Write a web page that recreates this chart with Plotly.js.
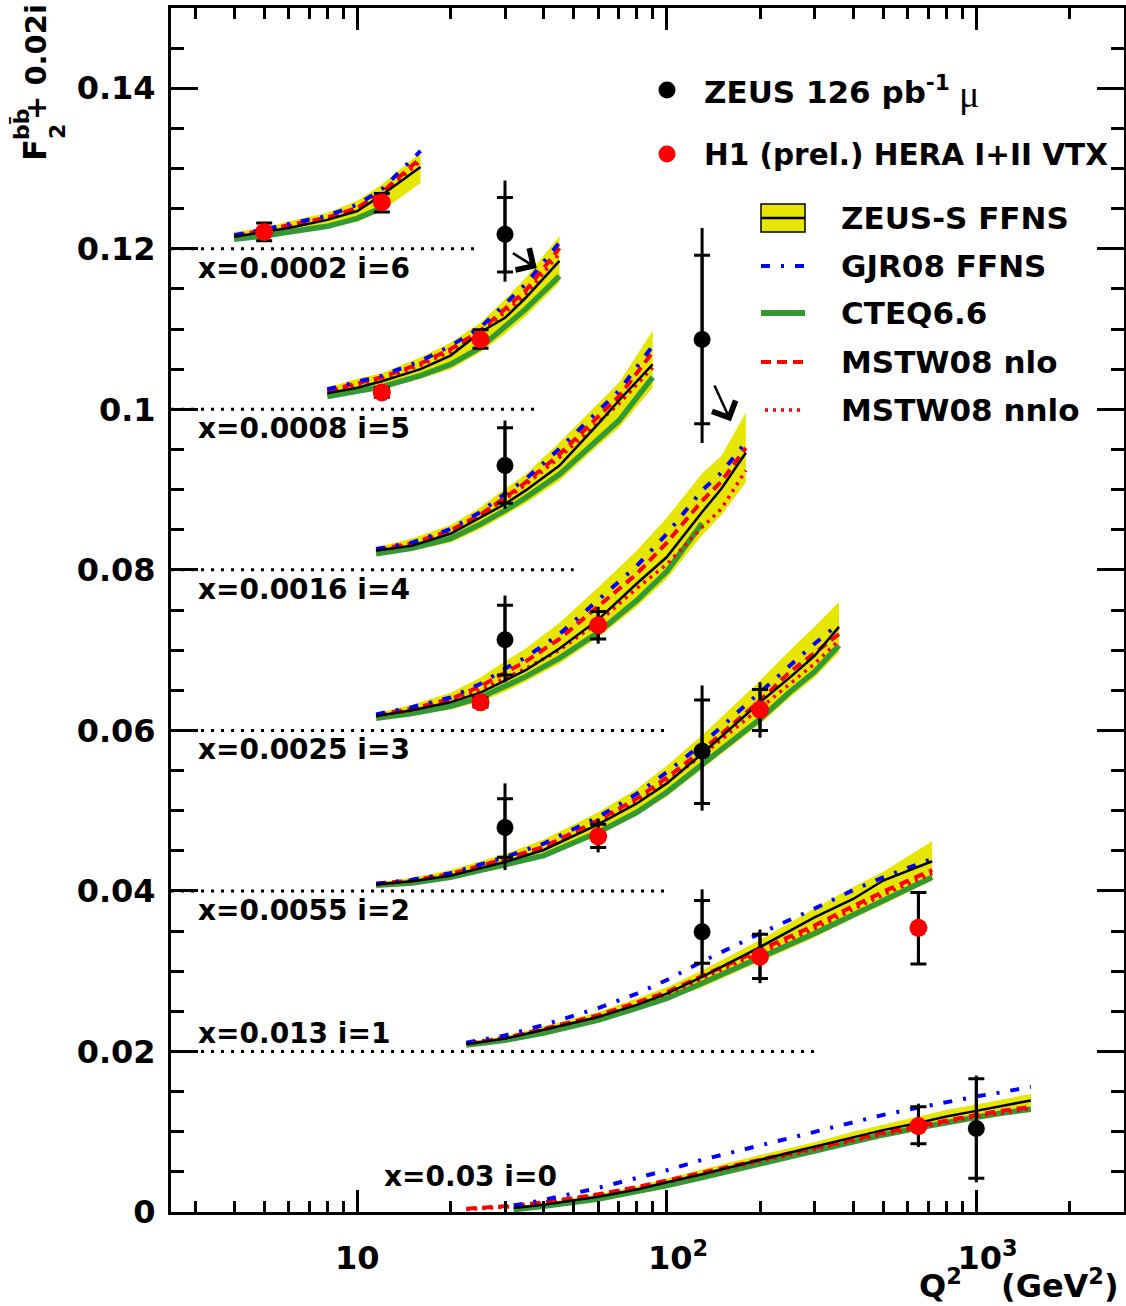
<!DOCTYPE html>
<html><head><meta charset="utf-8">
<script src="https://cdn.plot.ly/plotly-3.0.1.min.js"></script>
<style>html,body{margin:0;padding:0;background:#fff}#chart{width:1126px;height:1306px}</style>
</head><body><div id="chart"></div><script>
// ---------------- DATA ----------------
// bin i=6, x=0.0002
const q2_i6   = [4, 5, 6, 8, 10, 12, 16];
const lo_i6   = [0.1211, 0.1215, 0.1219, 0.1226, 0.1234, 0.1247, 0.1282];
const hi_i6   = [0.1221, 0.1226, 0.1234, 0.1245, 0.1260, 0.1280, 0.1320];
const zs_i6   = [0.1215, 0.1221, 0.1226, 0.1236, 0.1247, 0.1267, 0.1302];
const gjr_i6  = [0.1217, 0.1224, 0.1231, 0.1241, 0.1255, 0.1274, 0.1322];
const cteq_i6 = [0.1212, 0.1216, 0.1221, 0.1228, 0.1238, 0.1251];
const nlo_i6  = [0.1216, 0.1223, 0.1229, 0.1239, 0.1251, 0.1270, 0.1313];
const nnlo_i6 = [0.1216, 0.1222, 0.1228, 0.1237, 0.1250, 0.1268, 0.1309];
// bin i=5, x=0.0008
const q2_i5   = [8, 10, 12, 16, 20, 25, 30, 35, 45];
const lo_i5   = [0.1015, 0.1020, 0.1025, 0.1038, 0.1050, 0.1071, 0.1094, 0.1116, 0.1158];
const hi_i5   = [0.1027, 0.1038, 0.1045, 0.1065, 0.1083, 0.1108, 0.1137, 0.1164, 0.1216];
const zs_i5   = [0.1020, 0.1027, 0.1035, 0.1050, 0.1067, 0.1096, 0.1114, 0.1139, 0.1185];
const gjr_i5  = [0.1025, 0.1035, 0.1042, 0.1060, 0.1079, 0.1102, 0.1131, 0.1156, 0.1208];
const cteq_i5 = [0.1016, 0.1022, 0.1028, 0.1042, 0.1056, 0.1077, 0.1102, 0.1125, 0.1166];
const nlo_i5  = [0.1023, 0.1033, 0.1040, 0.1057, 0.1075, 0.1098, 0.1125, 0.1148, 0.1201];
const nnlo_i5 = [0.1022, 0.1031, 0.1038, 0.1055, 0.1072, 0.1095, 0.1121, 0.1143, 0.1194];
// bin i=4, x=0.0016
const q2_i4   = [11.5, 15, 20, 25, 30, 35, 45, 60, 70, 90];
const lo_i4   = [0.0818, 0.0824, 0.0834, 0.0851, 0.0868, 0.0883, 0.0911, 0.0955, 0.0977, 0.1027];
const hi_i4   = [0.0828, 0.0839, 0.0856, 0.0878, 0.0901, 0.0919, 0.0959, 0.1007, 0.1033, 0.1098];
const zs_i4   = [0.0824, 0.0830, 0.0845, 0.0865, 0.0882, 0.0899, 0.0930, 0.0982, 0.1011, 0.1056];
const gjr_i4  = [0.0826, 0.0834, 0.0851, 0.0872, 0.0895, 0.0913, 0.0951, 0.0998, 0.1023, 0.1079];
const cteq_i4 = [0.0820, 0.0827, 0.0839, 0.0857, 0.0874, 0.0890, 0.0919, 0.0963, 0.0986, 0.1040];
const nlo_i4  = [0.0825, 0.0833, 0.0849, 0.0869, 0.0890, 0.0909, 0.0944, 0.0990, 0.1016, 0.1071];
const nnlo_i4 = [0.0824, 0.0832, 0.0848, 0.0868, 0.0888, 0.0906, 0.0940, 0.0984, 0.1007, 0.1052];
// bin i=3, x=0.0025
const q2_i3   = [11.5, 15, 20, 25, 30, 35, 45, 60, 80, 100, 130, 150, 180];
const lo_i3   = [0.0614, 0.0619, 0.0626, 0.0636, 0.0648, 0.0661, 0.0683, 0.0716, 0.0754, 0.0789, 0.0843, 0.0868, 0.0909];
const hi_i3   = [0.0621, 0.0632, 0.0647, 0.0666, 0.0686, 0.0702, 0.0734, 0.0778, 0.0824, 0.0865, 0.0920, 0.0942, 0.0996];
const zs_i3   = [0.0618, 0.0625, 0.0635, 0.0647, 0.0662, 0.0675, 0.0702, 0.0738, 0.0783, 0.0816, 0.0872, 0.0901, 0.0946];
const gjr_i3  = [0.0620, 0.0629, 0.0641, 0.0658, 0.0677, 0.0691, 0.0720, 0.0762, 0.0805, 0.0845, 0.0899, 0.0921, 0.0959];
const cteq_i3 = [0.0615, 0.0621, 0.0630, 0.0641, 0.0655, 0.0667, 0.0690, 0.0722, 0.0762, 0.0798, 0.0858];
const nlo_i3  = [0.0619, 0.0627, 0.0639, 0.0655, 0.0672, 0.0686, 0.0714, 0.0754, 0.0795, 0.0834, 0.0886, 0.0910, 0.0952];
const nnlo_i3 = [0.0618, 0.0625, 0.0636, 0.0650, 0.0665, 0.0677, 0.0700, 0.0735, 0.0777, 0.0807, 0.0853, 0.0876, 0.0924];
// bin i=2, x=0.0055
const q2_i2   = [11.5, 15, 20, 30, 40, 60, 80, 100, 130, 200, 250, 300, 360];
const lo_i2   = [0.0406, 0.0409, 0.0415, 0.0429, 0.0442, 0.0469, 0.0494, 0.0518, 0.0552, 0.0608, 0.0641, 0.0666, 0.0697];
const hi_i2   = [0.0410, 0.0416, 0.0426, 0.0446, 0.0464, 0.0498, 0.0527, 0.0556, 0.0594, 0.0662, 0.0700, 0.0729, 0.0760];
const zs_i2   = [0.0408, 0.0412, 0.0419, 0.0436, 0.0451, 0.0483, 0.0509, 0.0534, 0.0571, 0.0635, 0.0666, 0.0693, 0.0729];
const gjr_i2  = [0.0409, 0.0414, 0.0422, 0.0442, 0.0459, 0.0492, 0.0521, 0.0548, 0.0583, 0.0648, 0.0681, 0.0708, 0.0733];
const cteq_i2 = [0.0407, 0.0410, 0.0417, 0.0432, 0.0444, 0.0473, 0.0498, 0.0523, 0.0558, 0.0614, 0.0648, 0.0673, 0.0706];
const nlo_i2  = [0.0409, 0.0413, 0.0421, 0.0440, 0.0455, 0.0488, 0.0515, 0.0541, 0.0575, 0.0637, 0.0673, 0.0697, 0.0720];
const nnlo_i2 = [0.0408, 0.0413, 0.0420, 0.0438, 0.0453, 0.0485, 0.0511, 0.0536, 0.0569, 0.0627, 0.0658, 0.0683, 0.0712];
// bin i=1, x=0.013
const q2_i1   = [22.5, 30, 40, 60, 80, 100, 130, 200, 300, 400, 500, 720];
const lo_i1   = [0.0207, 0.0213, 0.0222, 0.0237, 0.0251, 0.0264, 0.0280, 0.0312, 0.0342, 0.0366, 0.0383, 0.0413];
const hi_i1   = [0.0212, 0.0219, 0.0231, 0.0249, 0.0266, 0.0280, 0.0301, 0.0339, 0.0378, 0.0405, 0.0424, 0.0462];
const zs_i1   = [0.0209, 0.0216, 0.0227, 0.0243, 0.0258, 0.0272, 0.0293, 0.0330, 0.0367, 0.0390, 0.0413, 0.0437];
const gjr_i1  = [0.0211, 0.0220, 0.0233, 0.0254, 0.0272, 0.0289, 0.0312, 0.0347, 0.0378, 0.0401, 0.0417, 0.0440];
const cteq_i1 = [0.0208, 0.0214, 0.0223, 0.0239, 0.0254, 0.0266, 0.0285, 0.0316, 0.0347, 0.0370, 0.0388, 0.0417];
const nlo_i1  = [0.0210, 0.0217, 0.0228, 0.0245, 0.0261, 0.0274, 0.0294, 0.0326, 0.0357, 0.0381, 0.0399, 0.0426];
const nnlo_i1 = [0.0210, 0.0217, 0.0227, 0.0243, 0.0259, 0.0271, 0.0291, 0.0323, 0.0353, 0.0377, 0.0395, 0.0422];
// bin i=0, x=0.03
const q2_i0   = [32, 40, 60, 80, 100, 130, 200, 300, 400, 500, 650, 800, 1000, 1200, 1500];
const q2r_i0  = [22.5, 32, 40, 60, 80, 100, 130, 200, 300, 400, 500, 650, 800, 1000, 1200, 1500];
const lo_i0   = [0.0003, 0.0006, 0.0016, 0.0025, 0.0032, 0.0043, 0.0059, 0.0074, 0.0087, 0.0096, 0.0104, 0.0111, 0.0118, 0.0123, 0.0129];
const hi_i0   = [0.0005, 0.0011, 0.0022, 0.0032, 0.0042, 0.0053, 0.0071, 0.0087, 0.0100, 0.0109, 0.0119, 0.0127, 0.0134, 0.0140, 0.0147];
const zs_i0   = [0.0005, 0.0009, 0.0019, 0.0028, 0.0037, 0.0047, 0.0065, 0.0081, 0.0093, 0.0102, 0.0111, 0.0119, 0.0126, 0.0132, 0.0139];
const gjr_i0  = [0.0008, 0.0015, 0.0030, 0.0042, 0.0052, 0.0065, 0.0083, 0.0100, 0.0112, 0.0121, 0.0130, 0.0137, 0.0144, 0.0149, 0.0156];
const cteq_i0 = [0.0003, 0.0007, 0.0016, 0.0025, 0.0033, 0.0043, 0.0060, 0.0075, 0.0088, 0.0096, 0.0105, 0.0112, 0.0118, 0.0123, 0.0128];
const nlo_i0  = [0.0004, 0.0008, 0.0012, 0.0022, 0.0031, 0.0039, 0.0049, 0.0065, 0.0080, 0.0091, 0.0099, 0.0107, 0.0114, 0.0121, 0.0126, 0.0131];
const nnlo_i0 = [0.0003, 0.0007, 0.0011, 0.0021, 0.0030, 0.0037, 0.0047, 0.0063, 0.0078, 0.0089, 0.0097, 0.0105, 0.0112, 0.0119, 0.0123, 0.0129];

// ZEUS 126 pb-1 muon data (F2 + 0.02 i)
const zeusQ2      = [30, 130, 30, 30, 130, 30, 130, 1000];
const zeusVal     = [0.1218, 0.1087, 0.0930, 0.0713, 0.0574, 0.0479, 0.0349, 0.0104];
const zeusStatUp  = [0.0046, 0.0105, 0.0047, 0.0043, 0.0064, 0.0036, 0.0039, 0.0062];
const zeusStatDn  = [0.0047, 0.0105, 0.0047, 0.0044, 0.0065, 0.0037, 0.0039, 0.0062];
const zeusTotUp   = [0.0067, 0.0139, 0.0056, 0.0055, 0.0082, 0.0055, 0.0053, 0.0066];
const zeusTotDn   = [0.0059, 0.0129, 0.0054, 0.0053, 0.0074, 0.0053, 0.0054, 0.0067];
// H1 (prel.) HERA I+II VTX data
const h1Q2      = [5, 12, 12, 25, 25, 60, 60, 200, 200, 650, 650];
const h1Val     = [0.1221, 0.1258, 0.1021, 0.1087, 0.0635, 0.0731, 0.0468, 0.0626, 0.0318, 0.0354, 0.0107];
const h1StatUp  = [0.0011, 0.0011, 0.0006, 0.0012, 0.0006, 0.0017, 0.0015, 0.0025, 0.0028, 0.0044, 0.0024];
const h1StatDn  = [0.0011, 0.0012, 0.0006, 0.0011, 0.0006, 0.0017, 0.0014, 0.0026, 0.0027, 0.0045, 0.0022];
const h1TotUp   = [0.0012, 0.0013, 0.0007, 0.0013, 0.0007, 0.0023, 0.0022, 0.0034, 0.0034, 0.0046, 0.0028];
const h1TotDn   = [0.0012, 0.0013, 0.0007, 0.0012, 0.0007, 0.0023, 0.0020, 0.0035, 0.0033, 0.0046, 0.0026];

// dotted reference lines at 0.02 i and bin labels
const refLevel  = [0.12, 0.10, 0.08, 0.06, 0.04, 0.02];
const refEndQ2  = [25, 38, 50, 100, 100, 310];
const binLabels = ["x=0.0002 i=6", "x=0.0008 i=5", "x=0.0016 i=4", "x=0.0025 i=3", "x=0.0055 i=2", "x=0.013 i=1", "x=0.03 i=0"];
const labelQ2   = [3, 3, 3, 3, 3, 3, 12];
const labelY    = [0.1175, 0.0976, 0.0775, 0.0576, 0.0376, 0.0223, 0.0044];
// arrows (from ZEUS points toward shifted theory)
const arrowFromQ2 = [31.1, 139.4];
const arrowFromY  = [0.1197, 0.1038];
const arrowToQ2   = [38.0, 161.0];
const arrowToY    = [0.1176, 0.0985];

const xTickVals = [10, 100, 1000];
const xTickText = ["10", "\u00a0\u00a010<sup>2</sup>", "\u00a0\u00a010<sup>3</sup>"];
const xMinorVals = [3,4,5,6,7,8,9,20,30,40,50,60,70,80,90,200,300,400,500,600,700,800,900,2000,3000];
const yTickVals = [0, 0.02, 0.04, 0.06, 0.08, 0.10, 0.12, 0.14];
const yTickText = ["0", "0.02", "0.04", "0.06", "0.08", "0.1", "0.12", "0.14"];

// ---------------- BUILD ----------------
const FONT = "DejaVu Sans";
const YEL = "rgb(230,230,0)", GRN = "rgb(51,153,51)";
const bins = [
  {q2:q2_i6, lo:lo_i6, hi:hi_i6, zs:zs_i6, gjr:gjr_i6, cteq:cteq_i6, nlo:nlo_i6, nnlo:nnlo_i6},
  {q2:q2_i5, lo:lo_i5, hi:hi_i5, zs:zs_i5, gjr:gjr_i5, cteq:cteq_i5, nlo:nlo_i5, nnlo:nnlo_i5},
  {q2:q2_i4, lo:lo_i4, hi:hi_i4, zs:zs_i4, gjr:gjr_i4, cteq:cteq_i4, nlo:nlo_i4, nnlo:nnlo_i4},
  {q2:q2_i3, lo:lo_i3, hi:hi_i3, zs:zs_i3, gjr:gjr_i3, cteq:cteq_i3, nlo:nlo_i3, nnlo:nnlo_i3},
  {q2:q2_i2, lo:lo_i2, hi:hi_i2, zs:zs_i2, gjr:gjr_i2, cteq:cteq_i2, nlo:nlo_i2, nnlo:nnlo_i2},
  {q2:q2_i1, lo:lo_i1, hi:hi_i1, zs:zs_i1, gjr:gjr_i1, cteq:cteq_i1, nlo:nlo_i1, nnlo:nnlo_i1},
  {q2:q2_i0, q2r:q2r_i0, lo:lo_i0, hi:hi_i0, zs:zs_i0, gjr:gjr_i0, cteq:cteq_i0, nlo:nlo_i0, nnlo:nnlo_i0}
];
const styles = {
  cteq: {color:GRN, width:5.5},
  nnlo: {color:"red", width:3.5, dash:"3px,5px"},
  nlo:  {color:"red", width:4, dash:"10px,6px"},
  gjr:  {color:"blue", width:4, dash:"9px,11px,3px,11px"},
  zs:   {color:"black", width:2.5}
};
const traces = [];
bins.forEach(b => {
  traces.push({x: b.q2.concat(b.q2.slice().reverse()), y: b.hi.concat(b.lo.slice().reverse()),
    type:"scatter", mode:"lines", fill:"toself", fillcolor:YEL, line:{width:0, color:YEL}, hoverinfo:"skip"});
});
["cteq","nnlo","nlo","gjr","zs"].forEach(m => {
  bins.forEach(b => {
    const xs = ((m==="nlo"||m==="nnlo") && b.q2r) ? b.q2r : b.q2;
    traces.push({x: xs.slice(0, b[m].length), y: b[m], type:"scatter", mode:"lines",
      line: Object.assign({shape:"linear"}, styles[m]), hoverinfo:"skip"});
  });
});
refLevel.forEach((lv, k) => {
  traces.push({x:[2.5, refEndQ2[k]], y:[lv, lv], type:"scatter", mode:"lines",
    line:{color:"black", width:3, dash:"3px,7px"}, hoverinfo:"skip"});
});
// ZEUS total (no caps) + stat (caps)
traces.push({x:zeusQ2, y:zeusVal, type:"scatter", mode:"markers", marker:{size:0.1, color:"black"},
  error_y:{type:"data", symmetric:false, array:zeusTotUp, arrayminus:zeusTotDn, color:"black", thickness:3, width:0}});
traces.push({x:zeusQ2, y:zeusVal, type:"scatter", mode:"markers", marker:{size:17, color:"black"},
  error_y:{type:"data", symmetric:false, array:zeusStatUp, arrayminus:zeusStatDn, color:"black", thickness:3, width:8}});
// H1
traces.push({x:h1Q2, y:h1Val, type:"scatter", mode:"markers", marker:{size:0.1, color:"black"},
  error_y:{type:"data", symmetric:false, array:h1TotUp, arrayminus:h1TotDn, color:"black", thickness:3, width:0}});
traces.push({x:h1Q2, y:h1Val, type:"scatter", mode:"markers", marker:{size:18, color:"red"},
  error_y:{type:"data", symmetric:false, array:h1StatUp, arrayminus:h1StatDn, color:"black", thickness:3, width:8}});

// ---------------- DECORATION ----------------
const L = 171, R = 1124, T = 8, B = 1212;
const PX = p => (p - L) / (R - L);
const PY = p => (B - p) / (B - T);
const bold = (size) => ({family:FONT, size:size, weight:"bold", color:"black"});

const annotations = [];
binLabels.forEach((t, k) => {
  annotations.push({x:Math.log10(labelQ2[k]), y:labelY[k], xref:"x", yref:"y", text:t, showarrow:false,
    xanchor:"left", yanchor:"middle", font:bold(28)});
});
arrowFromQ2.forEach((q, k) => {
  annotations.push({x:Math.log10(arrowToQ2[k]), y:arrowToY[k], ax:Math.log10(q), ay:arrowFromY[k],
    xref:"x", yref:"y", axref:"x", ayref:"y", text:" ", showarrow:true, arrowhead:4, arrowsize:2,
    arrowwidth:2.5, arrowcolor:"black"});
});
// y title pieces (rotated)
annotations.push({xref:"paper", yref:"paper", x:PX(35), y:PY(150), text:"F", textangle:-90, showarrow:false, font:bold(32), xanchor:"center", yanchor:"middle"});
annotations.push({xref:"paper", yref:"paper", x:PX(57), y:PY(132), text:"2", textangle:-90, showarrow:false, font:bold(22), xanchor:"center", yanchor:"middle"});
annotations.push({xref:"paper", yref:"paper", x:PX(22), y:PY(124), text:"bb\u0304", textangle:-90, showarrow:false, font:bold(22), xanchor:"center", yanchor:"middle"});
annotations.push({xref:"paper", yref:"paper", x:PX(36), y:PY(62), text:"+ 0.02i", textangle:-90, showarrow:false, font:bold(29), xanchor:"center", yanchor:"middle"});
// x title
annotations.push({xref:"paper", yref:"paper", x:PX(917), y:PY(1284), text:"Q<sup>2</sup>", showarrow:false, font:bold(32), xanchor:"left", yanchor:"middle"});
annotations.push({xref:"paper", yref:"paper", x:PX(1121), y:PY(1284), text:"(GeV<sup>2</sup>)", showarrow:false, font:bold(32), xanchor:"right", yanchor:"middle"});

// legend
const legTexts = [
  {t:"ZEUS 126 pb<sup>-1</sup>", x:702, y:90, s:31},
  {t:"H1 (prel.) HERA I+II VTX", x:702, y:155, s:29.5},
  {t:"ZEUS-S FFNS", x:839, y:218, s:31},
  {t:"GJR08 FFNS", x:839, y:266, s:31},
  {t:"CTEQ6.6", x:839, y:313, s:31},
  {t:"MSTW08 nlo", x:839, y:362, s:31},
  {t:"MSTW08 nnlo", x:839, y:410, s:31}
];
legTexts.forEach(o => annotations.push({xref:"paper", yref:"paper", x:PX(o.x), y:PY(o.y), text:o.t,
  showarrow:false, xanchor:"left", yanchor:"middle", font:bold(o.s)}));
annotations.push({xref:"paper", yref:"paper", x:PX(957), y:PY(94), text:"\u03bc", showarrow:false,
  xanchor:"left", yanchor:"middle", font:{family:"Liberation Serif", size:38, color:"black"}});

const dot = (cx, cy, col) => ({type:"circle", xref:"paper", yref:"paper", xsizemode:"pixel", ysizemode:"pixel",
  xanchor:PX(cx), yanchor:PY(cy), x0:-8.5, x1:8.5, y0:-8.5, y1:8.5, fillcolor:col, line:{width:0}});
const hline = (x0, x1, y, st) => ({type:"line", xref:"paper", yref:"paper", x0:PX(x0), x1:PX(x1), y0:PY(y), y1:PY(y), line:st});
const shapes = [
  dot(667, 90, "black"),
  dot(667, 154, "red"),
  {type:"rect", xref:"paper", yref:"paper", x0:PX(761), x1:PX(805), y0:PY(232), y1:PY(204), fillcolor:YEL, line:{color:"black", width:1.5}},
  hline(761, 805, 218, {color:"black", width:2.5}),
  hline(761, 805, 266, styles.gjr),
  hline(761, 805, 313, {color:GRN, width:6}),
  hline(761, 805, 362, styles.nlo),
  hline(765, 805, 410, styles.nnlo)
];

const layout = {
  width:1126, height:1306,
  margin:{l:L, r:1126-R, t:T, b:1306-B, pad:0},
  paper_bgcolor:"white", plot_bgcolor:"white",
  showlegend:false,
  xaxis:{type:"log", range:[Math.log10(2.5), Math.log10(3000)], tickmode:"array", tickvals:xTickVals, ticktext:xTickText,
    ticks:"inside", ticklen:22, tickwidth:3, tickcolor:"black", showline:true, linewidth:3, linecolor:"black",
    mirror:"ticks", showgrid:false, zeroline:false, tickfont:bold(32), ticklabelstandoff:16,
    minor:{tickmode:"array", tickvals:xMinorVals, ticks:"inside", ticklen:11, tickwidth:3, tickcolor:"black", showgrid:false}},
  yaxis:{range:[0, 0.15], tickmode:"array", tickvals:yTickVals, ticktext:yTickText,
    ticks:"inside", ticklen:27, tickwidth:3, tickcolor:"black", showline:true, linewidth:3, linecolor:"black",
    mirror:"ticks", showgrid:false, zeroline:false, tickfont:bold(32), ticklabelstandoff:6,
    minor:{tickmode:"linear", tick0:0, dtick:0.005, ticks:"inside", ticklen:13, tickwidth:3, tickcolor:"black", showgrid:false}},
  annotations:annotations,
  shapes:shapes
};
Plotly.newPlot("chart", traces, layout, {displayModeBar:false, staticPlot:true});
</script></body></html>
